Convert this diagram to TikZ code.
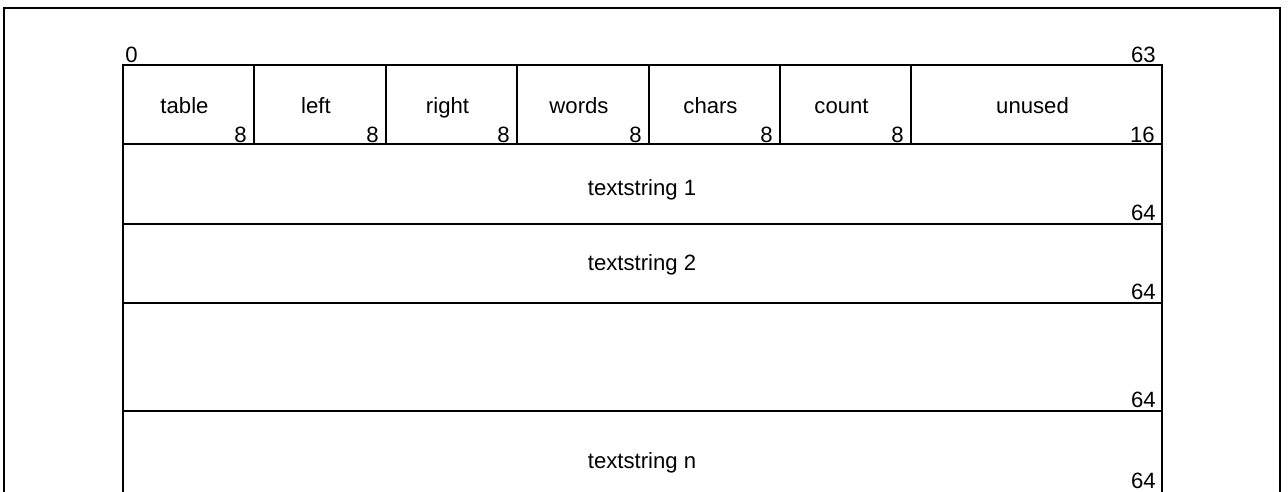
\documentclass[tikz,border=0pt]{standalone}
\usepackage{fontspec}
\setmainfont{Liberation Sans}
\begin{document}
\begin{tikzpicture}[x=0.02cm,y=-0.02cm,
    lbl/.style={inner sep=0pt, font=\fontsize{12.6}{15}\selectfont, anchor=base},
    bits/.style={lbl, anchor=base east},
    rule/.style={line width=1pt}]
    \useasboundingbox (0,0) rectangle (1288,491);
    % outer frame
    \draw[line width=0.6pt] (4,495) -- (4,8) -- (1280,8) -- (1280,495);
    % record layout
    \draw[rule] (123,495) -- (123,65) -- (1162,65) -- (1162,495);
    \foreach \y in {144,224,303,411}
        \draw[rule] (123,\y) -- (1162,\y);
    \foreach \x in {254,386,517,649,780,911}
        \draw[rule] (\x,65) -- (\x,144);
    \node[lbl, anchor=base west] (bit0) at (125,62) {0};
    \node[bits] (bit63) at (1156,62) {63};
    % header word
    \foreach \name/\l/\r/\w in {table/123/254/8, left/254/386/8, right/386/517/8,
        words/517/649/8, chars/649/780/8, count/780/911/8, unused/911/1162/16} {
        \node[lbl] (\name) at ({(\l+\r)/2-4},113) {\name};
        \node[bits] (\name-w) at (\r-7,142) {\w};
    }
    % text strings
    \node[lbl] (str1) at (642,195) {textstring 1};
    \node[bits] (str1-w) at (1156,220) {64};
    \node[lbl] (str2) at (642,270) {textstring 2};
    \node[bits] (str2-w) at (1156,299) {64};
    \node[bits] (strx-w) at (1156,407) {64};
    \node[lbl] (strn) at (642,468) {textstring n};
    \node[bits] (strn-w) at (1156,488) {64};
\end{tikzpicture}
\end{document}
